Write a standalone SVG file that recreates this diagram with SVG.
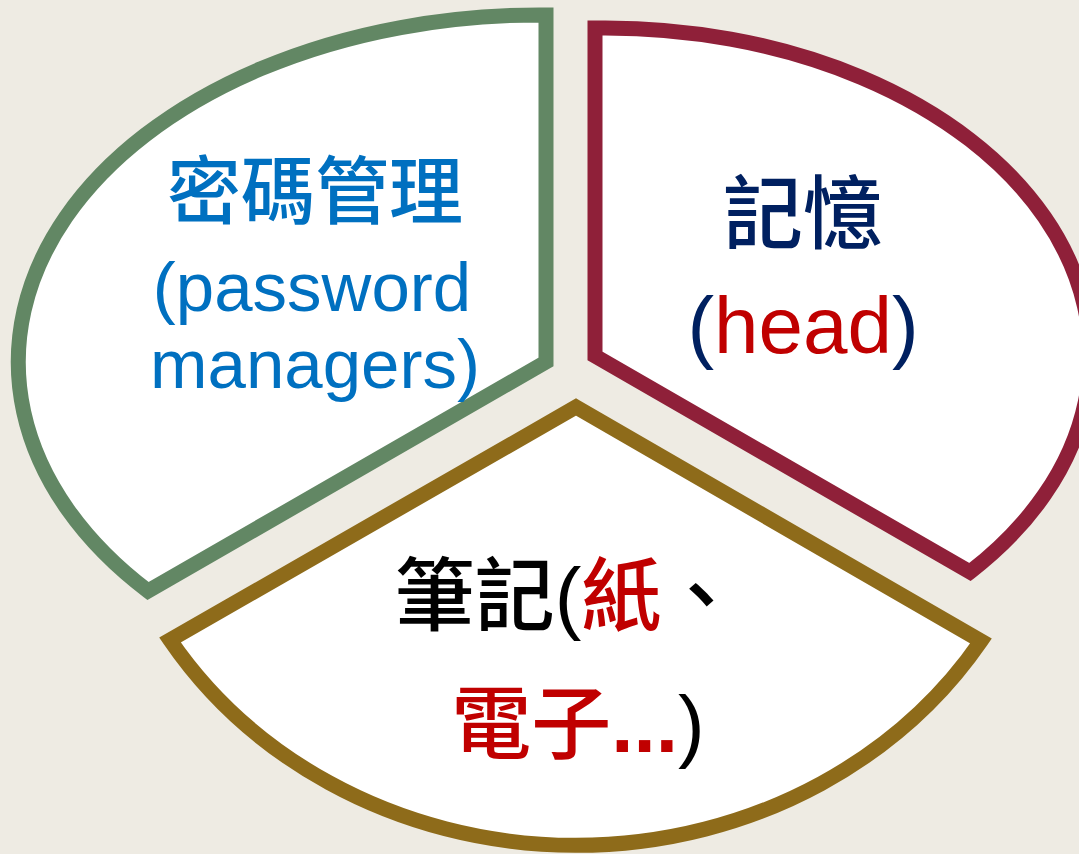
<svg xmlns="http://www.w3.org/2000/svg" width="1079" height="854" viewBox="0 0 1079 854">
  <style>
    .slice { fill: #FFFFFF; stroke-width: 15; stroke-linejoin: miter; stroke-miterlimit: 10; }
    .lbl { font-family: "Liberation Sans", "Noto Sans CJK TC", Arial, sans-serif; text-anchor: middle; }
    .cjk { font-weight: 500; }
    .blue { fill: #0070C0; }
    .navy { fill: #002060; }
    .red { fill: #C00000; }
    .black { fill: #000000; }
    .dots { font-weight: bold; }
  </style>
  <rect x="0" y="0" width="1079" height="854" fill="#EEEBE3"/>

  <g id="node-password-managers">
    <path class="slice" stroke="#628764" d="M 546 15 L 546 362 L 148 591 A 521.5 347 0 0 1 546 15 Z"/>
    <text class="lbl cjk blue" x="315" y="218" font-size="74">密碼管理</text>
    <text class="lbl blue" x="312" y="311" font-size="69">(password</text>
    <text class="lbl blue" x="315" y="388" font-size="69">managers)</text>
  </g>

  <g id="node-head">
    <path class="slice" stroke="#8F2039" d="M 595 28 A 485 328 0 0 1 970 572 L 595 356 Z"/>
    <text class="lbl cjk navy" x="803" y="242" font-size="80">記憶</text>
    <text class="lbl navy" x="803" y="353" font-size="80">(<tspan class="red">head</tspan>)</text>
  </g>

  <g id="node-notes">
    <path class="slice" stroke="#8E6B1A" d="M 576 407 L 981 641 A 479 438 0 0 1 170 640 Z"/>
    <text class="lbl cjk black" x="568" y="624" font-size="80">筆記(<tspan class="red">紙</tspan>、</text>
    <text class="lbl cjk red" x="578" y="752" font-size="80">電子<tspan class="dots">...</tspan><tspan class="black">)</tspan></text>
  </g>
</svg>
